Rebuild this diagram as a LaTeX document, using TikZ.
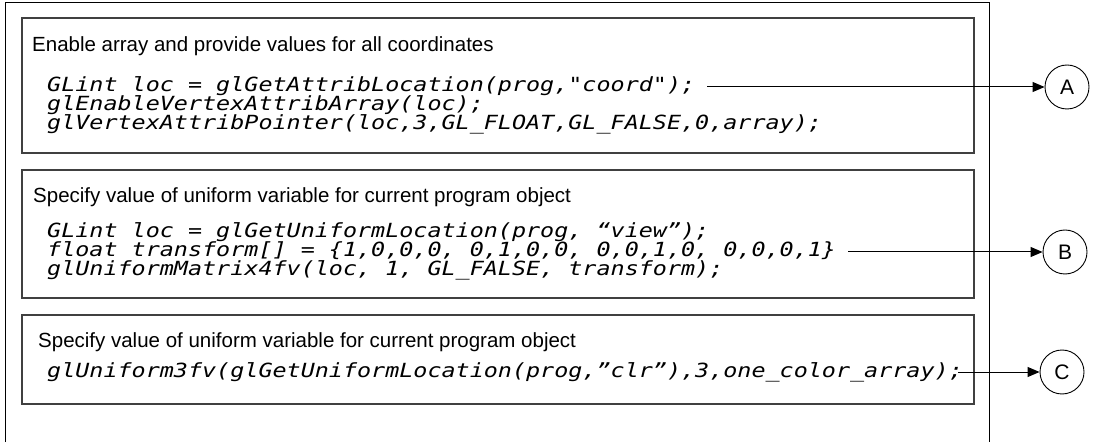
\documentclass[tikz,border=0pt]{standalone}
\usepackage{fontspec}
\setmainfont{Liberation Sans}
\newfontfamily\codefont[FakeStretch=1.2,Ligatures=TeXOff]{DejaVu Sans Mono}
\usetikzlibrary{arrows.meta}
\usetikzlibrary{math}

\tikzset{
    panel/.style={draw=black!75, line width=1.4pt},
    caption/.style={anchor=base west, inner sep=0pt, font=\fontsize{20.5}{24}\selectfont},
    codeline/.style={anchor=base west, inner sep=0pt, text height=10pt, text depth=0pt,
        font=\codefont\itshape\fontsize{19.5}{19}\selectfont},
    marker/.style={draw, circle, line width=0.9pt, minimum size=44pt, inner sep=0pt,
        font=\fontsize{21}{24}\selectfont},
    pointer/.style={-{Triangle[length=12pt,width=10pt]}, line width=1pt},
}

\begin{document}
\begin{tikzpicture}[x=1pt,y=1pt]

% Position settings
\tikzmath{
    \OutL = 5;
    \OutR = 989;
    \OutT = 439;
    \BoxL = 22;
    \BoxR = 974;
    \TextX = 47;
    \Skip = 19;
}

\useasboundingbox (0,0) rectangle (1095,442);

% Draws outer frame, open at the bottom
\draw [black, line width=1pt] (\OutL,0) -- (\OutL,\OutT) -- (\OutR,\OutT) -- (\OutR,0);

% Draws the three boxes
\draw [panel] (\BoxL,424) rectangle (\BoxR,289);
\draw [panel] (\BoxL,272) rectangle (\BoxR,144);
\draw [panel] (\BoxL,127) rectangle (\BoxR,38);

% First box: attribute array
\node [caption] (capA) at (32,390) {Enable array and provide values for all coordinates};
\node [codeline] (codeA1) at (\TextX,350) {GLint loc = glGetAttribLocation(prog,"coord");};
\node [codeline] (codeA2) at (\TextX,350-\Skip) {glEnableVertexAttribArray(loc);};
\node [codeline] (codeA3) at (\TextX,350-2*\Skip) {glVertexAttribPointer(loc,3,GL\_FLOAT,GL\_FALSE,0,array);};

% Second box: uniform matrix
\node [caption] (capB) at (33,239) {Specify value of uniform variable for current program object};
\node [codeline] (codeB1) at (\TextX,185+\Skip) {GLint loc = glGetUniformLocation(prog, “view”);};
\node [codeline] (codeB2) at (\TextX,185) {float transform[] = \{1,0,0,0, 0,1,0,0, 0,0,1,0, 0,0,0,1\}};
\node [codeline] (codeB3) at (\TextX,185-\Skip) {glUniformMatrix4fv(loc, 1, GL\_FALSE, transform);};

% Third box: uniform vector
\node [caption] (capC) at (38,94) {Specify value of uniform variable for current program object};
\node [codeline] (codeC) at (\TextX,65) {glUniform3fv(glGetUniformLocation(prog,”clr”),3,one\_color\_array);};

% Draws the labels
\node [marker] (circA) at (1067,355) {A};
\node [marker] (circB) at (1065,190) {B};
\node [marker] (circC) at (1062,70) {C};

% Draws arrows
\draw [pointer, shorten <=12pt] (codeA1.east) -- (circA);
\draw [pointer, shorten <=12pt] (codeB2.east) -- (circB);
\draw [pointer, shorten <=-5pt] (codeC.east) -- (circC);

\end{tikzpicture}
\end{document}
